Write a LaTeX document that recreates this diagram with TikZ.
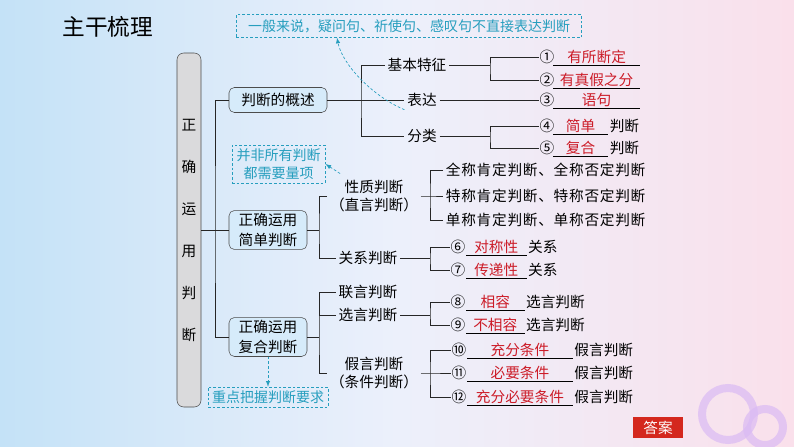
\documentclass[tikz,border=0pt]{standalone}
\usepackage{fontspec}
\setmainfont{Noto Sans CJK SC}
\newfontfamily\widefont[LetterSpace=5]{Noto Sans CJK SC}
\usetikzlibrary{arrows}
\definecolor{ansred}{RGB}{204,28,40}
\definecolor{tipcyan}{RGB}{38,158,190}
\definecolor{topicfill}{RGB}{214,235,250}
\definecolor{rootfill}{RGB}{218,218,220}
\definecolor{bgleft}{RGB}{196,226,247}
\definecolor{bgmid}{RGB}{236,240,251}
\definecolor{bgright}{RGB}{250,224,235}
\definecolor{ring}{RGB}{218,186,244}
\definecolor{btnred}{RGB}{212,40,30}
\newcommand{\treefont}{\fontsize{11}{13}\selectfont}
\newcommand{\tipfont}{\fontsize{10.5}{13.5}\selectfont}
\tikzset{ %inner sep = 2pt,
  {wire/.style} ={draw=black!85,line width=.6pt},
  {twig/.style} ={inner sep=2pt,font=\treefont,align=center},
  {topic/.style} ={twig,draw=black!70,fill=topicfill,rounded corners=4pt,
                   font=\fontsize{11}{15}\selectfont},
  {rootbox/.style} ={draw=black!70,fill=rootfill,rounded corners=5pt,
                   align=center,font=\fontsize{11}{31.5}\selectfont},
  num/.style ={inner sep=.5pt,font=\treefont},
  blank/.style ={anchor=west,inner sep=1pt,minimum width=#1,text=ansred,
                 font=\treefont,
                 append after command={(\tikzlastnode.south west)
                   edge[draw=black,line width=.5pt] (\tikzlastnode.south east)}},
  tail/.style ={anchor=west,inner sep=1pt,font=\treefont},
  hint/.style ={draw=tipcyan,dash pattern=on 2pt off 1.5pt,text=tipcyan,
               inner sep=2pt,align=center,font=\tipfont},
  hintarrow/.style ={->,draw=tipcyan,dash pattern=on 2pt off 1.5pt,line width=.5pt},
  >=latex,
 }
\begin{document}
\begin{tikzpicture}[x=.75pt,y=-.75pt]
\useasboundingbox (0,0) rectangle (794,447);
\shade[left color=bgleft,right color=bgright,middle color=bgmid] (0,0) rectangle (794,447);
\draw[ring,line width=6pt,opacity=.7] (728,414) circle[radius=19.5pt];
\draw[ring,line width=6pt,opacity=.7] (765,427) circle[radius=13.5pt];

\node[font=\fontsize{17}{20}\selectfont,inner sep=0] (title) at (108,27) {主干梳理};
\node[hint,minimum width=259pt,minimum height=17pt] (hint1) at (409,26)
  {一般来说，疑问句、祈使句、感叹句不直接表达判断};

% main spine
\node[rootbox,minimum width=18pt,minimum height=265.5pt] (root) at (189,230)
  {正\\确\\运\\用\\判\\断};
\node[topic,minimum width=73.5pt,minimum height=18.75pt] (gaishu) at (278,100) {判断的概述};
\node[topic,minimum width=58.5pt,minimum height=29pt] (jiandan) at (268,230) {正确运用\\简单判断};
\node[topic,minimum width=58.5pt,minimum height=29pt] (fuhe) at (268,337) {正确运用\\复合判断};
\coordinate (s0) at (215,230);
\draw[wire] (root) -- (jiandan);
\draw[wire] (gaishu.west) -| (s0) |- (fuhe.west);

% gaishu
\node[twig] (tezheng) at (417,65) {基本特征};
\node[twig] (biaoda) at (422,100) {表达};
\node[twig] (fenlei) at (422,136) {分类};
\coordinate (g1) at (361,100);
\draw[wire] (gaishu) -- (biaoda);
\draw[wire] (tezheng.west) -| (g1) |- (fenlei.west);

\node[num] (n1) at (547,57) {①};
\node[blank=65pt] (a1) at (553,57) {有所断定};
\node[num] (n2) at (547,80) {②};
\node[blank=65pt] (a2) at (553,80) {有真假之分};
\coordinate (g2) at (490,68.5);
\draw[wire] (tezheng.east) -- (tezheng.east -| g2);
\draw[wire] (n1.west) -| (g2) |- (n2.west);

\node[num] (n3) at (547,100) {③};
\node[blank=65pt] (a3) at (553,100) {语句};
\draw[wire] (biaoda) -- (n3);

\node[num] (n4) at (547,126) {④};
\node[blank=41pt] (a4) at (553,126) {简单};
\node[tail] (p4) at (a4.east) {判断};
\node[num] (n5) at (547,148) {⑤};
\node[blank=41pt] (a5) at (553,148) {复合};
\node[tail] (p5) at (a5.east) {判断};
\coordinate (g3) at (490,137);
\draw[wire] (fenlei.east) -- (fenlei.east -| g3);
\draw[wire] (n4.west) -| (g3) |- (n5.west);

% jiandan
\node[twig] (xingzhi) at (374,196) {性质判断\\（直言判断）};
\node[twig] (guanxi) at (368,258) {关系判断};
\coordinate (j1) at (319,230);
\draw[wire] (jiandan) -- (j1);
\draw[wire] (xingzhi.west) -| (j1) |- (guanxi.west);

\node[tail,inner sep=2pt,font=\treefont\widefont] (q1) at (443,170) {全称肯定判断、全称否定判断};
\node[tail,inner sep=2pt,font=\treefont\widefont] (q2) at (443,196) {特称肯定判断、特称否定判断};
\node[tail,inner sep=2pt,font=\treefont\widefont] (q3) at (443,220) {单称肯定判断、单称否定判断};
\coordinate (x1) at (430,196);
\draw[wire] (xingzhi.east) -- (x1) -- (q2.west);
\draw[wire] (q1.west) -| (x1) |- (q3.west);

\node[num] (n6) at (458,247) {⑥};
\node[blank=45pt] (a6) at (466,247) {对称性};
\node[tail] (r6) at (a6.east) {关系};
\node[num] (n7) at (458,270) {⑦};
\node[blank=45pt] (a7) at (466,270) {传递性};
\node[tail] (r7) at (a7.east) {关系};
\coordinate (x2) at (430,258.5);
\draw[wire] (guanxi.east) -- (guanxi.east -| x2);
\draw[wire] (n6.west) -| (x2) |- (n7.west);

% fuhe
\node[twig] (lianyan) at (368,292) {联言判断};
\node[twig] (xuanyan) at (368,315) {选言判断};
\node[twig] (jiayan) at (374,373) {假言判断\\（条件判断）};
\coordinate (f1) at (319,337);
\draw[wire] (fuhe) -- (f1);
\draw[wire] (lianyan.west) -| (f1) |- (jiayan.west);
\draw[wire] (xuanyan.west) -- (xuanyan.west -| f1);

\node[num] (n8) at (458,302) {⑧};
\node[blank=43.5pt] (a8) at (466,302) {相容};
\node[tail] (r8) at (a8.east) {选言判断};
\node[num] (n9) at (458,325) {⑨};
\node[blank=43.5pt] (a9) at (466,325) {不相容};
\node[tail] (r9) at (a9.east) {选言判断};
\coordinate (x3) at (430,313.5);
\draw[wire] (xuanyan.east) -- (xuanyan.east -| x3);
\draw[wire] (n8.west) -| (x3) |- (n9.west);

\node[num] (n10) at (459,350) {⑩};
\node[blank=79pt] (a10) at (467,350) {充分条件};
\node[tail] (r10) at (a10.east) {假言判断};
\node[num] (n11) at (459,373) {⑪};
\node[blank=79pt] (a11) at (467,373) {必要条件};
\node[tail] (r11) at (a11.east) {假言判断};
\node[num] (n12) at (459,397) {⑫};
\node[blank=79pt] (a12) at (467,397) {充分必要条件};
\node[tail] (r12) at (a12.east) {假言判断};
\coordinate (x4) at (430,373);
\draw[wire] (jiayan.east) -- (x4) -- (n11.west);
\draw[wire] (n10.west) -| (x4) |- (n12.west);

% hints
\node[hint,minimum width=70pt,minimum height=28.5pt] (hint2) at (278.5,164) {并非所有判断\\都需要量项};
\node[hint,minimum width=90pt,minimum height=15pt] (hint3) at (268,397) {重点把握判断要求};
\draw[hintarrow] (biaoda.south west) .. controls (372,96) and (342,64) .. ([shift={(-72,0)}]hint1.south);
\draw[hintarrow] ([shift={(13,-4)}]xingzhi.north west) -- (hint2.east);
\draw[hintarrow] (fuhe) -- (hint3);

\node[fill=btnred,text=white,minimum width=37.5pt,minimum height=15.75pt,
  inner sep=0,font=\fontsize{11}{13}\selectfont] (daan) at (658,427.5) {答案};
\end{tikzpicture}
\end{document}
